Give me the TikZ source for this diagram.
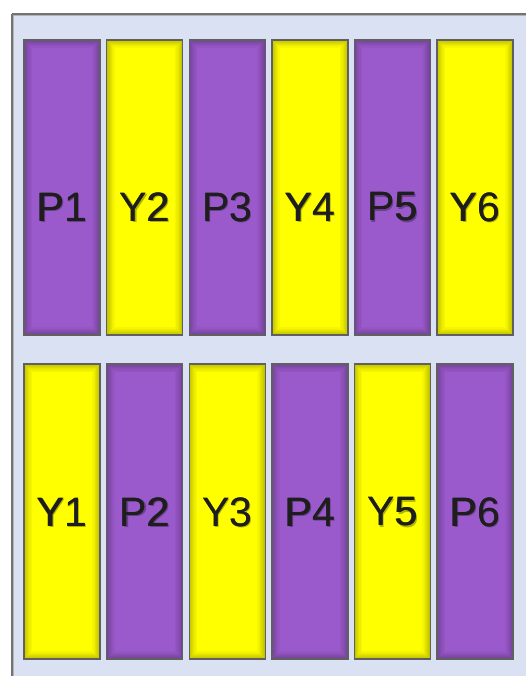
\documentclass[tikz,border=0pt]{standalone}
\usepackage{fontspec}
\setmainfont{Liberation Sans}
\definecolor{frameblue}{RGB}{217,225,242}
\definecolor{tpurple}{RGB}{155,90,203}
\definecolor{tyellow}{RGB}{255,255,0}
\definecolor{labelc}{RGB}{30,30,30}
\tikzset{
  tilelabel/.style={font=\fontsize{41}{41}\selectfont, text=labelc, inner sep=0pt, anchor=center},
  labelshadow/.style={font=\fontsize{41}{41}\selectfont, text=black, text opacity=0.3, inner sep=0pt, anchor=center},
}
\newcommand{\mytile}[4]{% x, ytop, ybottom, color
  \begin{scope}
    \clip (#1,#2) rectangle ++(76,#3-#2);
    \fill[#4] (#1,#2) rectangle ++(76,#3-#2);
    \foreach \w in {16,13,10,8,6,4,2.5}{
      \draw[black, opacity=0.035, line width=\w pt] (#1,#2) rectangle ++(76,#3-#2);
    }
  \end{scope}
  \draw[gray!75!black, line width=1.4pt] (#1,#2) rectangle ++(76,#3-#2);
}
\begin{document}
\begin{tikzpicture}[x=1pt,y=-1pt]
\useasboundingbox (0,0) rectangle (525,676);
\fill[white] (0,0) rectangle (525,676);
% outer frame
\fill[frameblue] (12,14) rectangle (530,690);
\draw[gray!60, line width=3pt] (12.5,14.5) -- (12.5,690) (12.5,14.5) -- (530,14.5);
\draw[gray!90!black, line width=1.2pt] (12,14) -- (12,690) (12,14) -- (530,14);
% top row
\foreach \i/\c/\t in {0/tpurple/P1,1/tyellow/Y2,2/tpurple/P3,3/tyellow/Y4,4/tpurple/P5,5/tyellow/Y6}{
  \pgfmathsetmacro{\xx}{24+\i*82.6}
  \mytile{\xx}{40}{335}{\c}
  \node[labelshadow] at (\xx+39.5,208.5) {\t};
  \node[tilelabel] (\t) at (\xx+38,207) {\t};
  \node[tilelabel] at (\xx+38.4,207) {\t};
}
% bottom row
\foreach \i/\c/\t in {0/tyellow/Y1,1/tpurple/P2,2/tyellow/Y3,3/tpurple/P4,4/tyellow/Y5,5/tpurple/P6}{
  \pgfmathsetmacro{\xx}{24+\i*82.6}
  \mytile{\xx}{364}{659}{\c}
  \node[labelshadow] at (\xx+39.5,513.5) {\t};
  \node[tilelabel] (\t) at (\xx+38,512) {\t};
  \node[tilelabel] at (\xx+38.4,512) {\t};
}
\end{tikzpicture}
\end{document}
